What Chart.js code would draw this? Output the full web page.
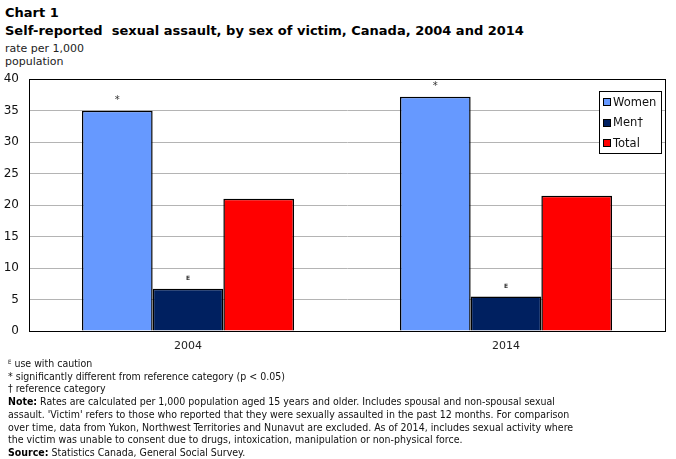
<!DOCTYPE html>
<html>
<head>
<meta charset="utf-8">
<script src="https://cdn.jsdelivr.net/npm/chart.js@4.4.0/dist/chart.umd.min.js"></script>
<style>
  body { margin: 0; background: #fff; width: 676px; height: 459px; overflow: hidden; position: relative; font-family: "DejaVu Sans", Verdana, sans-serif; color: #000; }
  .title { position: absolute; left: 5px; font-weight: bold; font-size: 13px; white-space: nowrap; }
  .unit { position: absolute; left: 5px; top: 42px; font-size: 11px; line-height: 13px; color: #222; }
  #wrap { position: absolute; left: 0; top: 62px; width: 676px; height: 298px; }
  .notes { position: absolute; left: 8px; top: 356px; width: 668px; font-family: "DejaVu Sans Condensed", "DejaVu Sans", sans-serif; font-size: 10.5px; line-height: 12.7px; color: #111; white-space: nowrap; }
  .notes b { color: #000; }
  .sm { font-size: 6px; vertical-align: 3px; }
</style>
</head>
<body>
<div class="title" style="top:5px">Chart 1</div>
<div class="title" style="top:23px">Self-reported&nbsp; sexual assault, by sex of victim, Canada, 2004 and 2014</div>
<div class="unit">rate per 1,000<br>population</div>
<div id="wrap"><canvas id="myChart"></canvas></div>
<div class="notes">
  <div><span class="sm">E</span> use with caution</div>
  <div>* significantly different from reference category (p &lt; 0.05)</div>
  <div>† reference category</div>
  <div><b>Note:</b> Rates are calculated per 1,000 population aged 15 years and older. Includes spousal and non-spousal sexual</div>
  <div>assault. 'Victim' refers to those who reported that they were sexually assaulted in the past 12 months. For comparison</div>
  <div>over time, data from Yukon, Northwest Territories and Nunavut are excluded. As of 2014, includes sexual activity where</div>
  <div>the victim was unable to consent due to drugs, intoxication, manipulation or non-physical force.</div>
  <div><b>Source:</b> Statistics Canada, General Social Survey.</div>
</div>
<script>
// data
const years = ["2004", "2014"];
const seriesNames = ["Women", "Men†", "Total"];
const women = [35.0, 37.2];
const men = [6.7, 5.5];
const total = [21.0, 21.5];
const womenFlags = ["*", "*"];
const menFlags = ["E", "E"];
const yTicks = [0, 5, 10, 15, 20, 25, 30, 35, 40];

const colors = ["#6699ff", "#002060", "#ff0000"];

Chart.defaults.font.family = "'DejaVu Sans', Verdana, sans-serif";
Chart.defaults.color = "#222";

// frame round the plot, legend box and the little flags above bars
const extras = {
  id: "extras",
  afterDatasetsDraw(chart) {
    const ctx = chart.ctx;
    const a = chart.chartArea;
    ctx.save();

    // flags
    ctx.fillStyle = "#333";
    ctx.textAlign = "center";
    ctx.textBaseline = "bottom";
    chart.getDatasetMeta(0).data.forEach((bar, i) => {
      ctx.font = "10px 'DejaVu Sans'";
      ctx.fillText(womenFlags[i], bar.x, bar.y - 5);
    });
    chart.getDatasetMeta(1).data.forEach((bar, i) => {
      ctx.font = "bold 6px 'DejaVu Sans'";
      ctx.fillText(menFlags[i], bar.x, bar.y - 7);
    });

    // frame
    ctx.strokeStyle = "#000";
    ctx.lineWidth = 1;
    ctx.strokeRect(Math.round(a.left) + 0.5, Math.round(a.top) + 0.5, Math.round(a.right - a.left), Math.round(a.bottom - a.top));

    // legend
    const bx = Math.round(a.right) - 66, by = Math.round(a.top) + 12, bw = 62, bh = 62;
    ctx.fillStyle = "#fff";
    ctx.fillRect(bx, by, bw, bh);
    ctx.strokeRect(bx + 0.5, by + 0.5, bw, bh);
    ctx.font = "11.5px 'DejaVu Sans'";
    ctx.textAlign = "left";
    ctx.textBaseline = "middle";
    seriesNames.forEach((name, i) => {
      const cy = by + 11 + i * 20.5;
      ctx.fillStyle = colors[i];
      ctx.fillRect(bx + 4, Math.round(cy - 4), 8, 8);
      ctx.strokeStyle = "#000";
      ctx.strokeRect(bx + 4.5, Math.round(cy - 4) + 0.5, 7, 7);
      ctx.fillStyle = "#111";
      ctx.fillText(name, bx + 14, cy + 1);
    });
    ctx.restore();
  }
};

const ctx = document.getElementById("myChart").getContext("2d");
new Chart(ctx, {
  type: "bar",
  data: {
    labels: years,
    datasets: [women, men, total].map((vals, i) => ({
      label: seriesNames[i],
      data: vals,
      backgroundColor: colors[i],
      borderColor: "#000",
      borderWidth: 1.5,
      barPercentage: 1,
      categoryPercentage: 0.667,
    })),
  },
  options: {
    responsive: true,
    maintainAspectRatio: false,
    animation: false,
    layout: { padding: { top: 0, right: 11, left: 0, bottom: 0 } },
    plugins: { legend: { display: false }, tooltip: { enabled: false } },
    scales: {
      x: {
        grid: { display: false },
        border: { display: true, color: "#000" },
        ticks: { padding: 1, font: { size: 11 }, color: "#222" },
        afterFit: (s) => { s.height = 29; },
      },
      y: {
        min: yTicks[0],
        max: yTicks[yTicks.length - 1],
        afterBuildTicks: (s) => { s.ticks = yTicks.map((v) => ({ value: v })); },
        grid: { color: "#b4b4b4", drawTicks: false },
        border: { display: true, color: "#000" },
        ticks: { padding: 10, font: { size: 12 }, color: "#111" },
        afterFit: (s) => { s.width = 29; },
      },
    },
  },
  plugins: [extras],
});
</script>
</body>
</html>
